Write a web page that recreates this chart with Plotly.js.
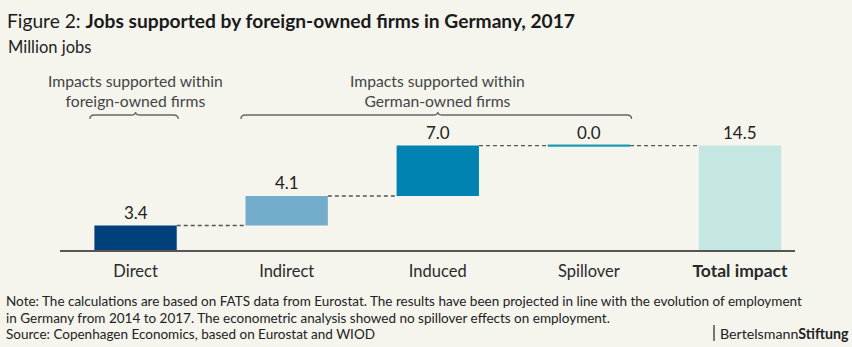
<!DOCTYPE html>
<html>
<head>
<meta charset="utf-8">
<script src="https://cdn.plot.ly/plotly-3.0.1.min.js"></script>
<style>
html,body{margin:0;padding:0;background:#f5f5ee;}
#chart{width:852px;height:347px;}
</style>
</head>
<body>
<div id="chart"></div>
<script>
// ---- data ----
var categories = ['Direct', 'Indirect', 'Induced', 'Spillover', 'Total impact'];
var values = [3.4, 4.1, 7.0, 0.0, 14.5];
var measures = ['relative', 'relative', 'relative', 'relative', 'total'];
var barColors = ['#00407b', '#74adcc', '#0083b3', '#1b9cb6', '#c4e7e2'];
var groupLabels = ['Impacts supported within<br>foreign-owned firms', 'Impacts supported within<br>German-owned firms'];
var groupSpans = [[0, 0], [1, 3]];
var titleText = 'Figure 2: <b>Jobs supported by foreign-owned firms in Germany, 2017</b>';
var subtitleText = 'Million jobs';
var noteLines = [
  'Note: The calculations are based on FATS data from Eurostat. The results have been projected in line with the evolution of employment',
  'in Germany from 2014 to 2017. The econometric analysis showed no spillover effects on employment.',
  'Source: Copenhagen Economics, based on Eurostat and WIOD'
];
var logoText = 'Bertelsmann<b>Stiftung</b>';

// ---- derived ----
var bases = [], tops = [], heights = [];
var cum = 0;
for (var i = 0; i < values.length; i++) {
  if (measures[i] === 'total') { bases.push(0); heights.push(values[i]); cum = values[i]; }
  else { bases.push(cum); heights.push(values[i]); cum += values[i]; }
  tops.push(cum);
}
var xs = categories.map(function (c, i) { return i; });

var W = 852, H = 347;
var M = {l: 60, r: 57, t: 106, b: 97};
var PW = W - M.l - M.r, PH = H - M.t - M.b;
function px(x) { return (x - M.l) / PW; }
function py(y) { return (H - M.b - y) / PH; }

var font = 'Lato, "Noto Sans", sans-serif';
var bw = 0.545;

var shapes = [];
// connectors
for (var i = 0; i < values.length - 1; i++) {
  shapes.push({type: 'line', xref: 'x', yref: 'y', x0: xs[i] + bw / 2, x1: xs[i + 1] - bw / 2,
    y0: tops[i], y1: tops[i], line: {color: '#555', width: 1.3, dash: '4px,3px'}});
}
// zero-height bars drawn as line
for (var i = 0; i < values.length; i++) {
  if (heights[i] === 0) {
    shapes.push({type: 'line', xref: 'x', yref: 'y', x0: xs[i] - bw / 2, x1: xs[i] + bw / 2,
      y0: tops[i], y1: tops[i], line: {color: barColors[i], width: 2.2}});
  }
}
// braces
var annotations = [];
groupSpans.forEach(function (s, g) {
  var x0 = xs[s[0]] - bw / 2 - 0.03, x1 = xs[s[1]] + bw / 2 + 0.01, xm = (xs[s[0]] + xs[s[1]]) / 2;
  var yb = py(119), yt = py(115), ytip = py(112);
  var d = 0.03;
  var p = 'M' + x0 + ',' + yb + ' Q' + x0 + ',' + yt + ' ' + (x0 + d) + ',' + yt +
    ' L' + (xm - d) + ',' + yt + ' Q' + xm + ',' + yt + ' ' + xm + ',' + ytip +
    ' Q' + xm + ',' + yt + ' ' + (xm + d) + ',' + yt +
    ' L' + (x1 - d) + ',' + yt + ' Q' + x1 + ',' + yt + ' ' + x1 + ',' + yb;
  shapes.push({type: 'path', xref: 'x', yref: 'paper', path: p, line: {color: '#666', width: 1.3}});
  annotations.push({xref: 'x', yref: 'paper', x: xm, y: py(90.5), text: groupLabels[g], showarrow: false,
    font: {family: font, size: 15.7, color: '#444'}, align: 'center', yanchor: 'middle'});
});
// value labels
for (var i = 0; i < values.length; i++) {
  annotations.push({xref: 'x', yref: 'y', x: xs[i], y: Math.max(tops[i], bases[i]),
    text: values[i].toFixed(1), showarrow: false, yanchor: 'bottom', yshift: 1,
    font: {family: font, size: 17, color: '#222'}});
}
// subtitle
annotations.push({xref: 'paper', yref: 'paper', x: px(6), y: py(46.5), xanchor: 'left', yanchor: 'middle',
  text: subtitleText, showarrow: false, font: {family: font, size: 16.5, color: '#222'}});
// notes
var noteY = [301, 318, 334];
noteLines.forEach(function (t, k) {
  annotations.push({xref: 'paper', yref: 'paper', x: px(4), y: py(noteY[k]), xanchor: 'left', yanchor: 'middle',
    text: t, showarrow: false, font: {family: font, size: 13.5, color: '#222'}});
});
// logo
annotations.push({xref: 'paper', yref: 'paper', x: px(718), y: py(333), xanchor: 'left', yanchor: 'middle',
  text: logoText, showarrow: false, font: {family: font, size: 14.2, color: '#222'}});
shapes.push({type: 'line', xref: 'paper', yref: 'paper', x0: px(714), x1: px(714), y0: py(325), y1: py(341),
  line: {color: '#222', width: 1.2}});

var ticktext = categories.map(function (c, i) {
  return measures[i] === 'total' ? '<span style="font-size:17.5px"><b>' + c + '</b></span>' : c;
});

var trace = {
  type: 'bar', x: xs, y: heights, base: bases, width: bw,
  marker: {color: barColors, line: {width: 0}},
  hoverinfo: 'skip'
};

var layout = {
  width: W, height: H,
  margin: M,
  paper_bgcolor: '#f5f5ee', plot_bgcolor: '#f5f5ee',
  showlegend: false,
  title: {text: titleText, x: 7 / W, xanchor: 'left', xref: 'container', yref: 'container',
    y: 1 - 21 / H, yanchor: 'middle', font: {family: font, size: 19.2, color: '#1a1a1a'}},
  xaxis: {range: [-0.5, 4.364], tickvals: xs, ticktext: ticktext, showgrid: false, zeroline: false,
    showline: true, linecolor: '#555', linewidth: 2, ticks: '', ticklabelstandoff: 5,
    tickfont: {family: font, size: 16.5, color: '#2a2a2a'}, fixedrange: true},
  yaxis: {range: [0, 20], visible: false, showgrid: false, zeroline: false, fixedrange: true},
  shapes: shapes,
  annotations: annotations,
  font: {family: font}
};

Plotly.newPlot('chart', [trace], layout, {displayModeBar: false, staticPlot: true});
</script>
</body>
</html>
